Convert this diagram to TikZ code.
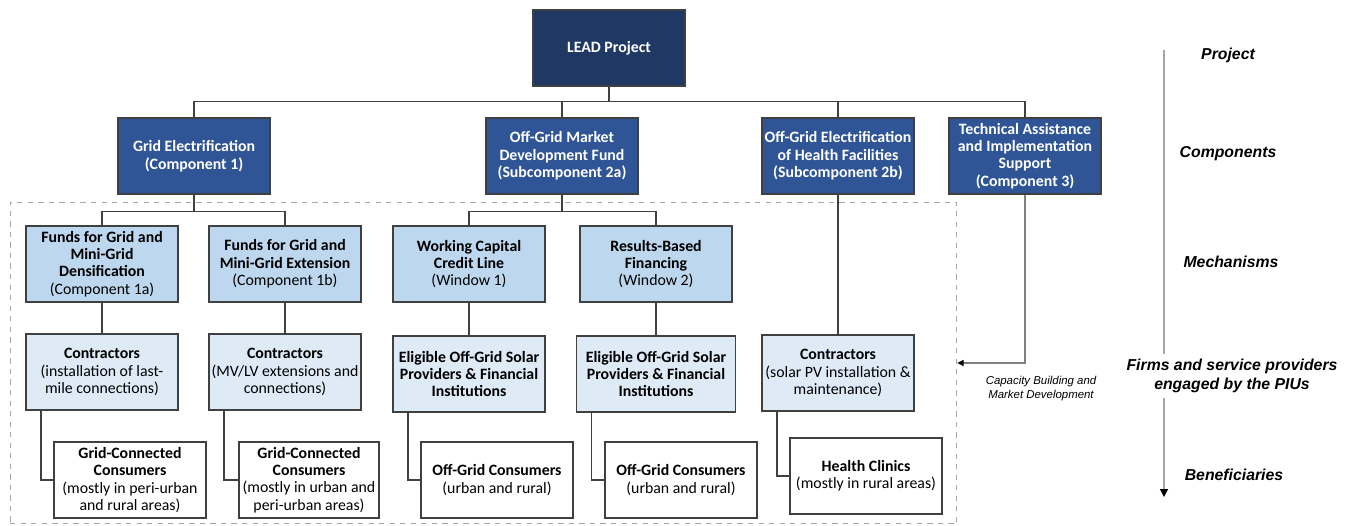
\documentclass[tikz,border=0pt]{standalone}
\usepackage{fontspec}
\setmainfont{Carlito}
\newfontfamily\labelfont{Liberation Sans}
\usetikzlibrary{arrows.meta}
\definecolor{leadblue}{HTML}{1F3864}
\definecolor{compblue}{HTML}{2F5597}
\definecolor{mechblue}{HTML}{BDD7EE}
\definecolor{firmblue}{HTML}{DEEBF7}
\definecolor{boxline}{HTML}{404040}
\definecolor{axisgray}{HTML}{A6A6A6}
\tikzset{
  % common look of every box of the chart
  orgbox/.style={draw=boxline,line width=0.8pt,minimum width=3.04cm,minimum height=1.52cm,
    align=center,inner sep=1pt,font=\fontsize{9}{9.9}\selectfont},
  % dark boxes: project and components
  leadbox/.style={orgbox,fill=leadblue,text=white,font=\bfseries\fontsize{9}{9.9}\selectfont},
  compbox/.style={orgbox,fill=compblue,text=white,font=\bfseries\fontsize{9}{9.9}\selectfont},
  % light boxes: mechanisms, firms, beneficiaries
  mechbox/.style={orgbox,fill=mechblue},
  firmbox/.style={orgbox,fill=firmblue},
  userbox/.style={orgbox,fill=white},
  link/.style={draw=boxline,line width=0.8pt},
  feedback/.style={draw=gray,line width=0.6pt,-{Triangle[black,length=3.5pt,width=3.5pt]}},
  levelaxis/.style={draw=axisgray,line width=0.7pt,-{Triangle[black,length=4.5pt,width=4.5pt]}},
  levellabel/.style={align=center,font=\labelfont\bfseries\itshape\fontsize{9}{10.5}\selectfont},
}

\begin{document}
\begin{tikzpicture}[x=0.02cm,y=-0.02cm]
\useasboundingbox (0,0) rectangle (1349,526);
% dashed frame round the mechanisms and below
\node[draw=axisgray,dashed,line width=0.6pt,minimum width=18.94cm,minimum height=6.44cm,inner sep=0pt] (inner) at (483.5,363) {};
% project and components
\node[leadbox] (lead) at (609,48) {LEAD Project};
\node[compbox] (ge) at (194,156) {Grid Electrification\\(Component 1)};
\node[compbox] (mdf) at (562,156) {Off-Grid Market\\Development Fund\\(Subcomponent 2a)};
\node[compbox] (hf) at (838,156) {Off-Grid Electrification\\of Health Facilities\\(Subcomponent 2b)};
\node[compbox] (ta) at (1025,156) {Technical Assistance\\and Implementation\\Support\\(Component 3)};
% mechanisms
\node[mechbox] (fa) at (102,264) {\textbf{Funds for Grid and}\\\textbf{Mini-Grid}\\\textbf{Densification}\\(Component 1a)};
\node[mechbox] (fb) at (285,264) {\textbf{Funds for Grid and}\\\textbf{Mini-Grid Extension}\\(Component 1b)};
\node[mechbox] (wc) at (469,264) {\textbf{Working Capital}\\\textbf{Credit Line}\\(Window 1)};
\node[mechbox] (rb) at (656,264) {\textbf{Results-Based}\\\textbf{Financing}\\(Window 2)};
% firms and service providers
\node[firmbox] (ca) at (102,372) {\textbf{Contractors}\\(installation of last-\\mile connections)};
\node[firmbox] (cb) at (285,372) {\textbf{Contractors}\\(MV/LV extensions and\\connections)};
\node[firmbox] (ea) at (469,374) {\textbf{Eligible Off-Grid Solar}\\\textbf{Providers \& Financial}\\\textbf{Institutions}};
\node[firmbox,minimum width=3.18cm] (eb) at (656,374) {\textbf{Eligible Off-Grid Solar}\\\textbf{Providers \& Financial}\\\textbf{Institutions}};
\node[firmbox] (ch) at (838,373) {\textbf{Contractors}\\(solar PV installation \&\\maintenance)};
% beneficiaries
\node[userbox] (ga) at (130,480) {\textbf{Grid-Connected}\\\textbf{Consumers}\\(mostly in peri-urban\\and rural areas)};
\node[userbox,minimum width=2.8cm] (gb) at (309,480) {\textbf{Grid-Connected}\\\textbf{Consumers}\\(mostly in urban and\\peri-urban areas)};
\node[userbox] (oa) at (497,480) {\textbf{Off-Grid Consumers}\\(urban and rural)};
\node[userbox] (ob) at (681,480) {\textbf{Off-Grid Consumers}\\(urban and rural)};
\node[userbox] (hc) at (866,476) {\textbf{Health Clinics}\\(mostly in rural areas)};
% tree connectors
\foreach \c in {ge,mdf,hf,ta}
  \draw[link] (lead.south) -- ++(0,15) -| (\c.north);
\foreach \m in {fa,fb}
  \draw[link] (ge.south) -- ++(0,17) -| (\m.north);
\foreach \m in {wc,rb}
  \draw[link] (mdf.south) -- ++(0,17) -| (\m.north);
\draw[link] (hf.south) -- (ch.north);
\foreach \a/\b in {fa/ca,fb/cb,wc/ea,rb/eb}
  \draw[link] (\a.south) -- (\b.north);
\foreach \a/\b in {ca/ga,cb/gb,ea/oa,eb/ob,ch/hc}
  \draw[link] ([xshift=0.31cm]\a.south west) |- (\b.west);
% technical assistance feeds the whole frame
\draw[feedback] (ta.south) |- (inner.east);
\node[align=center,font=\labelfont\itshape\fontsize{6.5}{8}\selectfont] (cbmd) at (1041,389) {Capacity Building and\\Market Development};
% levels on the right
\coordinate (axtop) at (1164,50);
\coordinate (axbot) at (1164,497);
\draw[levelaxis] (axtop) -- (axbot);
\node[levellabel] (lproj) at (1228,55) {Project};
\node[levellabel] (lcomp) at (1228,154) {Components};
\node[levellabel] (lmech) at (1231,262) {Mechanisms};
\node[levellabel,fill=white] (lfirm) at (1232,376) {Firms and service providers\\engaged by the PIUs};
\node[levellabel] (lbene) at (1234,475) {Beneficiaries};
\end{tikzpicture}
\end{document}
